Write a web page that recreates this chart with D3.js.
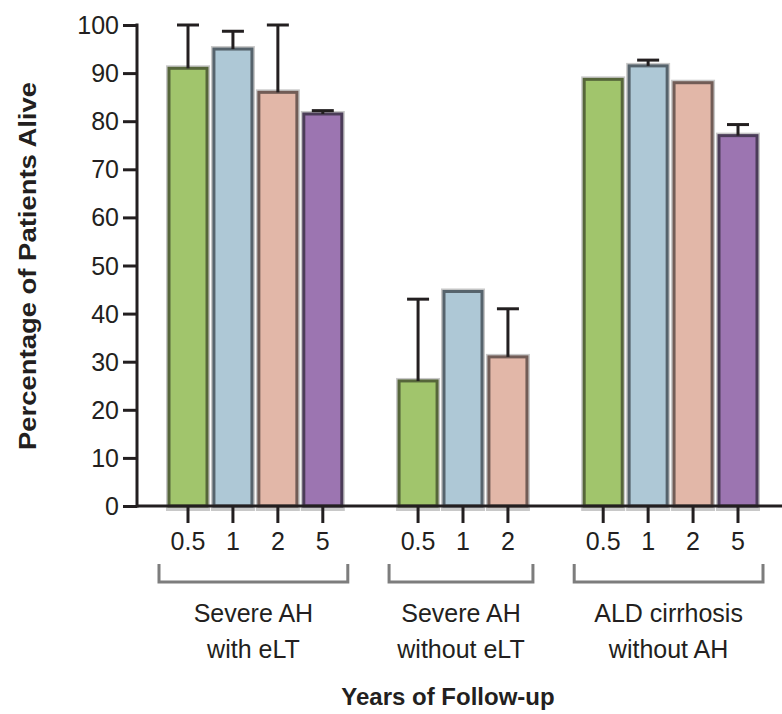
<!DOCTYPE html>
<html>
<head>
<meta charset="utf-8">
<script src="https://cdn.jsdelivr.net/npm/d3@7"></script>
<style>
  html, body { margin: 0; padding: 0; background: #fff; }
  svg { display: block; }
  text { font-family: "Liberation Sans", Arial, sans-serif; fill: #231f20; }
</style>
</head>
<body>
<svg id="chart" width="782" height="714"></svg>
<script>
// ---- data ----
const groupNames = ["Severe AH\nwith eLT", "Severe AH\nwithout eLT", "ALD cirrhosis\nwithout AH"];
const years = [["0.5", "1", "2", "5"], ["0.5", "1", "2"], ["0.5", "1", "2", "5"]];
const survival = [[91, 95, 86, 81.5], [26, 44.6, 31], [88.7, 91.5, 88, 77]];
const upperError = [[100, 98.7, 100, 82.2], [43, null, 41], [null, 92.7, null, 79.3]];
const yTicks = [0, 10, 20, 30, 40, 50, 60, 70, 80, 90, 100];
const yTitle = "Percentage of Patients Alive";
const xTitle = "Years of Follow-up";

// ---- styles ----
const fills = { "0.5": "#a1c56c", "1": "#aec8d6", "2": "#e2b7a8", "5": "#9c75b1" };
const strokes = { "0.5": "#56663a", "1": "#56636c", "2": "#715c56", "5": "#4b3c58" };
const ink = "#231f20";

const svg = d3.select("#chart");

// slots: bars laid out with a gap between groups
const groupGap = 2.12;
const bars = [];
const groups = [];
let slot = 0;
groupNames.forEach((g, gi) => {
  const start = slot;
  years[gi].forEach((yr, i) => {
    bars.push({ group: gi, year: yr, value: survival[gi][i], err: upperError[gi][i], slot: slot });
    slot += 1;
  });
  groups.push({ name: g, first: start, last: slot - 1 });
  slot += groupGap - 1;
});
const maxSlot = d3.max(bars, d => d.slot);

const x = d3.scaleLinear().domain([0, maxSlot]).range([188, 738]);
const y = d3.scaleLinear().domain([0, 100]).range([506, 25]);
const barW = 38;

// y axis
const yAxis = d3.axisLeft(y).tickValues(yTicks).tickSize(14).tickPadding(4).tickFormat(d3.format("d"));
const yg = svg.append("g").attr("transform", "translate(137,0)").call(yAxis);
yg.select(".domain").remove();
yg.selectAll(".tick line").attr("stroke", ink).attr("stroke-width", 3);
yg.selectAll(".tick text").attr("font-size", 25).attr("fill", ink)
  .attr("font-family", '"Liberation Sans", Arial, sans-serif').attr("dy", "0.34em");
svg.append("line").attr("x1", 137).attr("x2", 137).attr("y1", y(100) - 1.5).attr("y2", y(0) + 1.5)
  .attr("stroke", ink).attr("stroke-width", 3);

// bars: halo, then bar
const bg = svg.append("g");
bg.selectAll("rect.halo").data(bars).enter().append("rect")
  .attr("class", "halo")
  .attr("x", d => x(d.slot) - barW / 2 - 3)
  .attr("y", d => y(d.value) - 3)
  .attr("width", barW + 6)
  .attr("height", d => y(0) - y(d.value) + 8)
  .attr("fill", "#c8c8c8");
bg.selectAll("rect.bar").data(bars).enter().append("rect")
  .attr("class", "bar")
  .attr("x", d => x(d.slot) - barW / 2)
  .attr("y", d => y(d.value))
  .attr("width", barW)
  .attr("height", d => y(0) - y(d.value))
  .attr("fill", d => fills[d.year])
  .attr("stroke", d => strokes[d.year])
  .attr("stroke-width", 3);

// x axis line
svg.append("line").attr("x1", 137).attr("x2", 782).attr("y1", y(0)).attr("y2", y(0))
  .attr("stroke", ink).attr("stroke-width", 3);

// error bars
const eb = bars.filter(d => d.err != null);
svg.append("g").selectAll("line.ev").data(eb).enter().append("line")
  .attr("x1", d => x(d.slot)).attr("x2", d => x(d.slot))
  .attr("y1", d => y(d.value)).attr("y2", d => y(d.err))
  .attr("stroke", ink).attr("stroke-width", 3);
svg.append("g").selectAll("line.ec").data(eb).enter().append("line")
  .attr("x1", d => x(d.slot) - 11).attr("x2", d => x(d.slot) + 11)
  .attr("y1", d => y(d.err)).attr("y2", d => y(d.err))
  .attr("stroke", ink).attr("stroke-width", 3);

// x ticks and labels
svg.append("g").selectAll("line").data(bars).enter().append("line")
  .attr("x1", d => x(d.slot)).attr("x2", d => x(d.slot))
  .attr("y1", y(0)).attr("y2", y(0) + 17)
  .attr("stroke", ink).attr("stroke-width", 3);
svg.append("g").selectAll("text").data(bars).enter().append("text")
  .attr("x", d => x(d.slot)).attr("y", 541).attr("dy", "0.35em")
  .attr("text-anchor", "middle").attr("font-size", 25)
  .text(d => d.year);

// brackets
const bracketTop = 564, bracketBottom = 582;
groups.forEach((g, gi) => {
  const x0 = x(g.first) - 29, x1 = x(g.last) + 25;
  svg.append("path")
    .attr("d", `M${x0},${bracketTop}V${bracketBottom}H${x1}V${bracketTop}`)
    .attr("fill", "none").attr("stroke", "#7d7d7d").attr("stroke-width", 3);
  const cx = (x0 + x1) / 2;
  const lines = g.name.split("\n");
  lines.forEach((ln, li) => {
    svg.append("text").attr("x", cx).attr("y", 613 + li * 36).attr("dy", "0.35em")
      .attr("text-anchor", "middle").attr("font-size", 25).attr("fill", "#333")
      .text(ln);
  });
});

// titles
svg.append("text").attr("x", 448).attr("y", 697).attr("dy", "0.35em")
  .attr("text-anchor", "middle").attr("font-size", 24).attr("font-weight", "bold")
  .text(xTitle);
svg.append("text")
  .attr("transform", "translate(28,266) rotate(-90)")
  .attr("dy", "0.35em")
  .attr("text-anchor", "middle").attr("font-size", 24).attr("font-weight", "bold")
  .attr("textLength", 368).attr("lengthAdjust", "spacingAndGlyphs")
  .text(yTitle);
</script>
</body>
</html>
